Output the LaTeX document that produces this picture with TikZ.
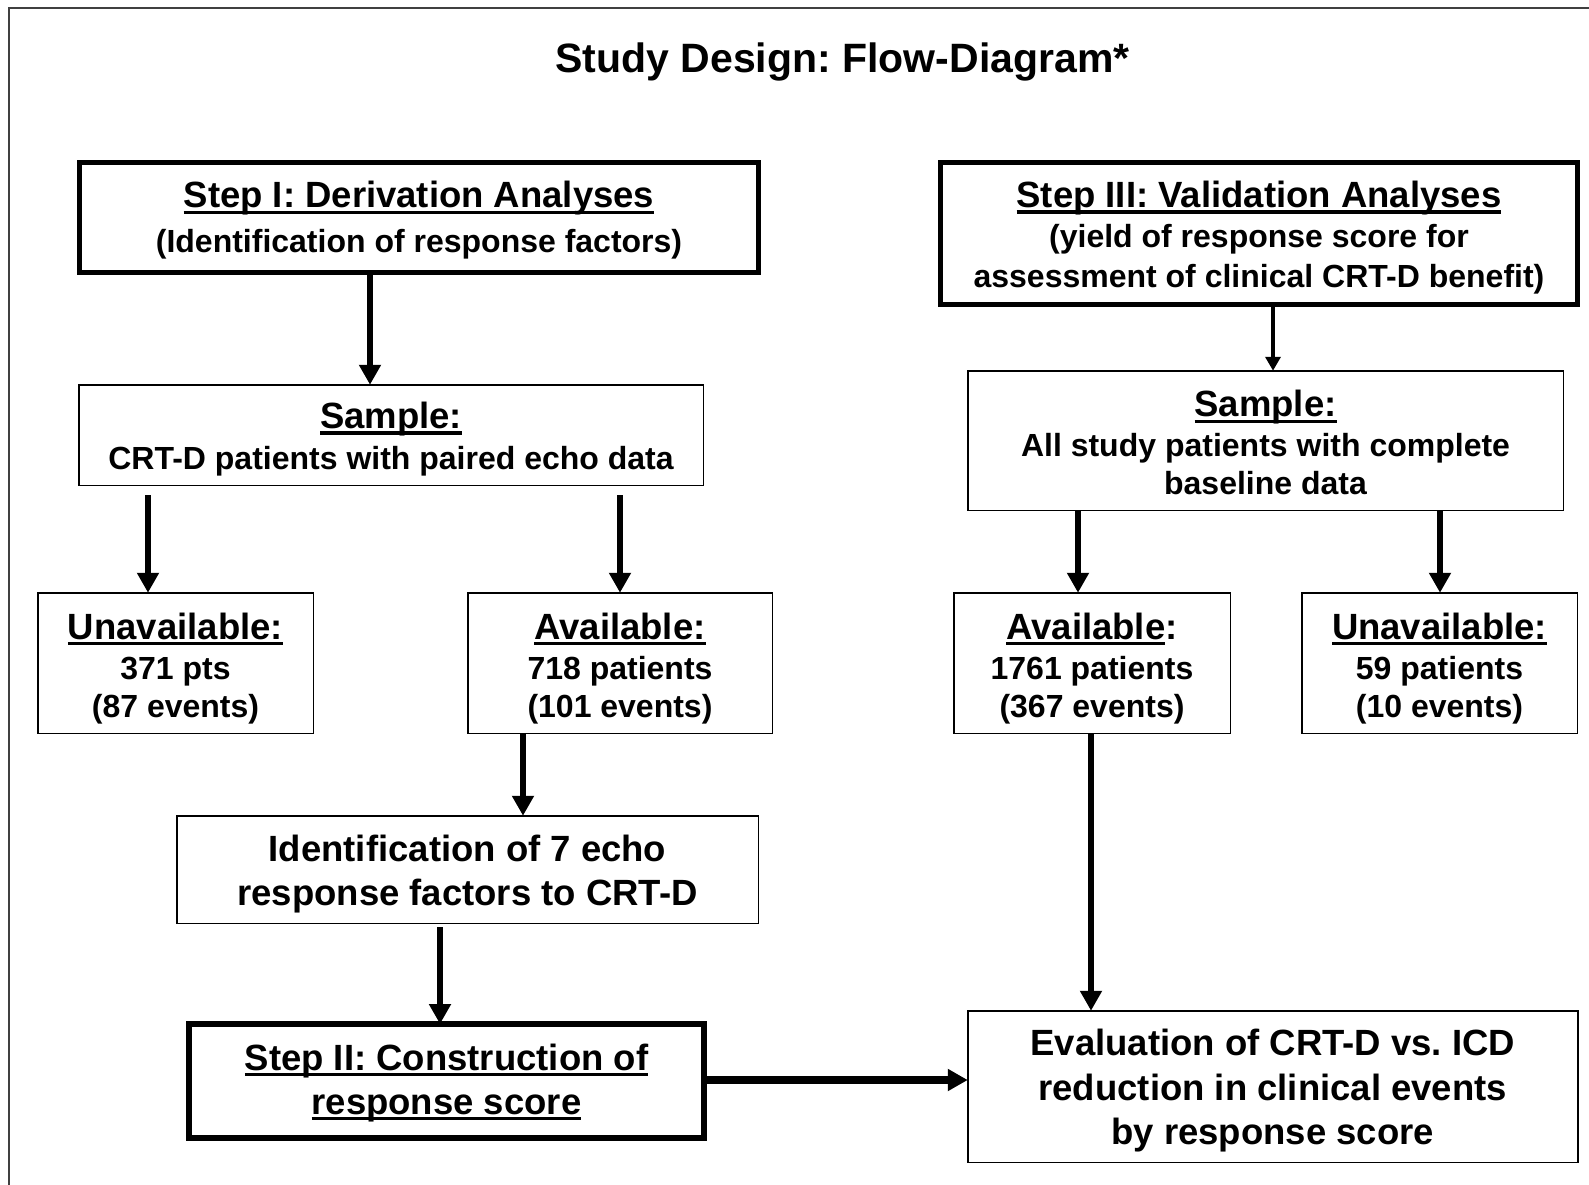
\documentclass[tikz,border=0pt]{standalone}
\usepackage{fontspec}
\setmainfont{Liberation Sans}
\usetikzlibrary{arrows.meta}

\newlength\ulwd
\newcommand\ulin[1]{\settowidth\ulwd{#1}\rlap{\rule[-0.165em]{\ulwd}{0.085em}}#1}
\newcommand\headfont{\fontsize{36.5}{44}\selectfont}
\newcommand\bodyfont{\fontsize{32}{40}\selectfont}
\newcommand\ts[1]{\rule{0pt}{#1}}
\frenchspacing

\begin{document}
\begin{tikzpicture}[x=1pt, y=-1pt,
        box/.style = {draw, line width=1.5pt, inner sep=0pt, outer sep=0pt, align=center, font=\bfseries\bodyfont},
        stepbox/.style = {box, line width=5pt},
        arrow/.style = {line width=6.5pt, -{Triangle[length=20pt,width=21pt]}},
        thinarrow/.style = {line width=3.5pt, -{Triangle[length=14pt,width=15pt]}}
        ]
        \useasboundingbox (0,0) rectangle (1589,1185);
        \draw[line width=1.5pt, black!75] (9,1185) -- (9,8) -- (1589,8);

        \node[anchor=base, font=\bfseries\fontsize{41}{48}\selectfont] (title) at (842.5,73) {Study Design: Flow-Diagram*};

        % step I and its branch
        \node[stepbox, minimum width=679pt, minimum height=110pt] (stepI) at (419,217.5)
            {{\headfont\ts{31.7pt}\ulin{Step I: Derivation Analyses}}\\[4.5pt](Identification of response factors)};
        \node[box, minimum width=624.5pt, minimum height=100.5pt] (sampleL) at (391,435)
            {{\headfont\ts{34.7pt}\ulin{Sample:}}\\[1pt]CRT-D patients with paired echo data};
        \node[box, minimum width=275.5pt, minimum height=140.5pt] (unavL) at (175.5,663)
            {{\headfont\ts{36.7pt}\ulin{Unavailable:}}\\371 pts\\[-2pt](87 events)};
        \node[box, minimum width=304.5pt, minimum height=140.5pt] (availL) at (620,663)
            {{\headfont\ts{36.7pt}\ulin{Available:}}\\718 patients\\[-2pt](101 events)};
        \node[box, minimum width=581.5pt, minimum height=107.5pt, font=\bfseries\headfont] (ident) at (467.5,869.5)
            {\ts{34.7pt}Identification of 7 echo\\response factors to CRT-D};
        \node[stepbox, line width=6pt, minimum width=515pt, minimum height=114pt, font=\bfseries\headfont] (stepII) at (446.5,1081)
            {\ts{29.7pt}\ulin{Step II: Construction of}\\\ulin{response score}};

        % step III and its branch
        \node[stepbox, minimum width=637pt, minimum height=142pt] (stepIII) at (1259,233.5)
            {{\headfont\ts{34.7pt}\ulin{Step III: Validation Analyses}}\\(yield of response score for\\assessment of clinical CRT-D benefit)};
        \node[box, minimum width=595.5pt, minimum height=139.5pt] (sampleR) at (1265.5,440.5)
            {{\headfont\ts{30.7pt}\ulin{Sample:}}\\All study patients with complete\\[-2pt]baseline data};
        \node[box, minimum width=276.5pt, minimum height=140.5pt] (availR) at (1092,663)
            {{\headfont\ts{36.7pt}\ulin{Available}:}\\1761 patients\\[-2pt](367 events)};
        \node[box, minimum width=275.5pt, minimum height=140.5pt] (unavR) at (1439.5,663)
            {{\headfont\ts{36.7pt}\ulin{Unavailable:}}\\59 patients\\[-2pt](10 events)};
        \node[box, minimum width=610pt, minimum height=151.5pt, font=\bfseries\headfont] (eval) at (1272.75,1086.5)
            {\ts{34.7pt}Evaluation of CRT-D vs. ICD\\[0.5pt]reduction in clinical events\\[0.5pt]by response score};

        \draw[arrow] (stepI.south -| 370,0) -- (sampleL.north -| 370,0);
        \draw[arrow, shorten <=10pt] (sampleL.south -| 148,0) -- (unavL.north -| 148,0);
        \draw[arrow, shorten <=10pt] (sampleL.south -| 620,0) -- (availL.north -| 620,0);
        \draw[arrow] (availL.south -| 523,0) -- (ident.north -| 523,0);
        \draw[arrow, shorten <=4pt] (ident.south -| 440,0) -- (stepII.north -| 440,0);

        \draw[thinarrow] (stepIII.south -| 1273,0) -- (sampleR.north -| 1273,0);
        \draw[arrow] (sampleR.south -| 1078,0) -- (availR.north -| 1078,0);
        \draw[arrow] (sampleR.south -| 1440,0) -- (unavR.north -| 1440,0);
        \draw[arrow] (availR.south -| 1091,0) -- (eval.north -| 1091,0);
        \draw[arrow, line width=7.5pt] (stepII.east |- 0,1080) -- (eval.west |- 0,1080);
    \end{tikzpicture}
\end{document}
